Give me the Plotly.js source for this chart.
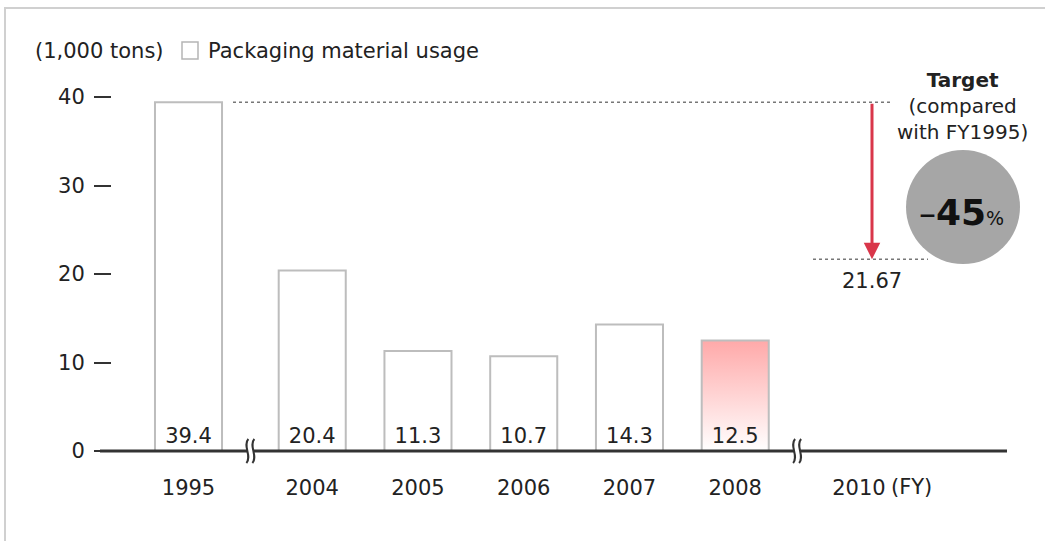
<!DOCTYPE html>
<html>
<head>
<meta charset="utf-8">
<script src="https://cdn.plot.ly/plotly-3.0.1.min.js"></script>
<style>
  html, body { margin: 0; padding: 0; background: #fff; }
  #chart { width: 1045px; height: 541px; }
</style>
</head>
<body>
<div id="chart"></div>
<script>
// ---------- data ----------
const categories   = ['1995', '2004', '2005', '2006', '2007', '2008', '2010'];
const usage        = [39.4, 20.4, 11.3, 10.7, 14.3, 12.5, null];   // 1,000 tons
const tickLabels   = ['1995', '2004', '2005', '2006', '2007', '2008', '2010'];
const breaksAfter  = [0, 5];          // axis breaks after these category indices
const highlightYear = '2008';
const targetValue  = 21.67;           // FY2010 target (1,000 tons)
const targetReductionPct = 45;        // vs FY1995
const unitLabel    = '(1,000 tons)';
const seriesName   = 'Packaging material usage';
const fyLabel      = '(FY)';
const yTicks       = [0, 10, 20, 30, 40];

// ---------- layout helpers ----------
const W = 1045, H = 541;
const M = {l: 112, r: 38, t: 97, b: 90};
const PW = W - M.l - M.r, PH = H - M.t - M.b;
const X0PX = 188.5, SLOT = 105.75;        // pixel of first slot, slot width
const fx = p => (p - M.l) / PW;          // pixel -> paper x
const fy = p => (H - M.b - p) / PH;      // pixel -> paper y
const GAP = 0.17;                         // extra slot space at a break
const pos = categories.map((c, i) => i + GAP * breaksAfter.filter(b => b < i).length);
const breakPos = breaksAfter.map(b => (pos[b] + pos[b + 1]) / 2);
const BARW = 0.634;
const FONT = 'DejaVu Sans, sans-serif';
const TXT = '#222';

const hiIdx = categories.indexOf(highlightYear);

const trace = {
  type: 'bar',
  x: pos,
  y: usage,
  width: BARW,
  text: usage.map(v => v == null ? '' : v.toFixed(1)),
  textposition: 'inside',
  insidetextanchor: 'start',
  textangle: 0,
  constraintext: 'none',
  textfont: {family: FONT, size: 21, color: TXT},
  marker: {
    color: categories.map((c, i) => i === hiIdx ? 'rgba(0,0,0,0)' : '#ffffff'),
    line: {color: '#bdbdbd', width: 2}
  },
  hoverinfo: 'skip',
  showlegend: false,
  cliponaxis: false
};

const gradSvg = '<svg xmlns="http://www.w3.org/2000/svg" width="10" height="100" preserveAspectRatio="none">' +
  '<defs><linearGradient id="g" x1="0" y1="0" x2="0" y2="1">' +
  '<stop offset="0" stop-color="#ffa9a9"/><stop offset="1" stop-color="#ffffff"/>' +
  '</linearGradient></defs><rect width="10" height="100" fill="url(#g)"/></svg>';

const shapes = [];
// frame
shapes.push({type: 'line', xref: 'paper', yref: 'paper', x0: fx(4), x1: fx(1045), y0: fy(8), y1: fy(8), line: {color: '#d0d0d0', width: 2}});
shapes.push({type: 'line', xref: 'paper', yref: 'paper', x0: fx(5), x1: fx(5), y0: fy(8), y1: fy(541), line: {color: '#d0d0d0', width: 2}});
// baseline (paper refs so it is not clipped)
shapes.push({type: 'line', xref: 'paper', yref: 'paper', x0: fx(100), x1: 1, y0: 0, y1: 0, line: {color: '#333', width: 3}});
// axis breaks
breakPos.forEach(bp => {
  const px = fx(X0PX + bp * SLOT);
  shapes.push({type: 'rect', xref: 'paper', yref: 'paper', xsizemode: 'pixel', ysizemode: 'pixel',
    xanchor: px, yanchor: 0, x0: -3, x1: 3, y0: -3, y1: 3, fillcolor: '#fff', line: {width: 0}});
  [-3, 3].forEach(dx => {
    shapes.push({type: 'path', xref: 'paper', yref: 'paper', xsizemode: 'pixel', ysizemode: 'pixel',
      xanchor: px, yanchor: 0,
      path: `M ${dx + 1},12 C ${dx - 5},5 ${dx + 5},-5 ${dx - 1},-12`,
      line: {color: '#333', width: 2}});
  });
});
// dotted reference lines
shapes.push({type: 'line', xref: 'paper', yref: 'y', x0: fx(233), x1: fx(890), y0: usage[0], y1: usage[0],
  line: {color: '#777', width: 1.5, dash: 'dot'}});
shapes.push({type: 'line', xref: 'paper', yref: 'y', x0: fx(813), x1: fx(928), y0: targetValue, y1: targetValue,
  line: {color: '#777', width: 1.5, dash: 'dot'}});
// circle
shapes.push({type: 'circle', xref: 'paper', yref: 'paper', x0: fx(906), x1: fx(1020), y0: fy(264), y1: fy(150),
  fillcolor: '#a6a6a6', line: {width: 0}});
// legend square
shapes.push({type: 'rect', xref: 'paper', yref: 'paper', x0: fx(182), x1: fx(198), y0: fy(59), y1: fy(42),
  fillcolor: '#fff', line: {color: '#b5b5b5', width: 1.5}});

const annotations = [
  {xref: 'paper', yref: 'paper', x: fx(33), y: fy(51), xanchor: 'left', yanchor: 'middle', showarrow: false,
   text: unitLabel, font: {family: FONT, size: 21, color: TXT}},
  {xref: 'paper', yref: 'paper', x: fx(206), y: fy(51), xanchor: 'left', yanchor: 'middle', showarrow: false,
   text: seriesName, font: {family: FONT, size: 21, color: TXT}},
  {xref: 'paper', yref: 'paper', x: fx(962), y: fy(106), xanchor: 'center', yanchor: 'middle', showarrow: false,
   align: 'center', text: '<b>Target</b><br>(compared<br>with FY' + categories[0] + ')',
   font: {family: FONT, size: 20, color: TXT}},
  {xref: 'paper', yref: 'paper', x: fx(961), y: fy(212), xanchor: 'center', yanchor: 'middle', showarrow: false,
   text: '<span style="font-size:34px">–</span><b>' + targetReductionPct + '</b><span style="font-size:19px">%</span>',
   font: {family: FONT, size: 36, color: '#111'}},
  {xref: 'paper', yref: 'y', x: fx(872), y: targetValue, ax: 0, ay: usage[0], axref: 'pixel', ayref: 'y',
   showarrow: true, arrowhead: 2, arrowsize: 1.1, arrowwidth: 3, arrowcolor: '#d9364a', text: ''},
  {xref: 'paper', yref: 'y', x: fx(872), y: targetValue, yshift: -8, xanchor: 'center', yanchor: 'top', showarrow: false,
   text: targetValue.toFixed(2), font: {family: FONT, size: 21, color: TXT}},
  {xref: 'x', yref: 'paper', x: pos[pos.length - 1], xshift: 30, y: fy(487), xanchor: 'left', yanchor: 'middle', showarrow: false,
   text: fyLabel, font: {family: FONT, size: 21, color: TXT}}
];

const layout = {
  width: W, height: H,
  margin: M,
  paper_bgcolor: '#fff', plot_bgcolor: 'rgba(0,0,0,0)',
  font: {family: FONT, color: TXT},
  bargap: 0,
  xaxis: {
    range: [(M.l - X0PX) / SLOT, (W - M.r - X0PX) / SLOT],
    tickvals: pos, ticktext: tickLabels,
    showgrid: false, zeroline: false, showline: false, ticks: '',
    tickfont: {family: FONT, size: 21, color: TXT},
    ticklabelstandoff: 22,
    fixedrange: true
  },
  yaxis: {
    range: [0, 40],
    tickvals: yTicks,
    showgrid: false, zeroline: false, showline: false,
    ticks: 'outside', ticklen: 17, tickwidth: 2, tickcolor: '#333',
    tickfont: {family: FONT, size: 21, color: TXT},
    ticklabelstandoff: 5,
    fixedrange: true
  },
  images: [{
    source: 'data:image/svg+xml;utf8,' + encodeURIComponent(gradSvg),
    xref: 'x', yref: 'y',
    x: pos[hiIdx] - BARW / 2, y: usage[hiIdx],
    sizex: BARW, sizey: usage[hiIdx],
    xanchor: 'left', yanchor: 'top',
    sizing: 'stretch', layer: 'below'
  }],
  shapes: shapes,
  annotations: annotations,
  showlegend: false
};

Plotly.newPlot('chart', [trace], layout, {staticPlot: true, displayModeBar: false});
</script>
</body>
</html>
